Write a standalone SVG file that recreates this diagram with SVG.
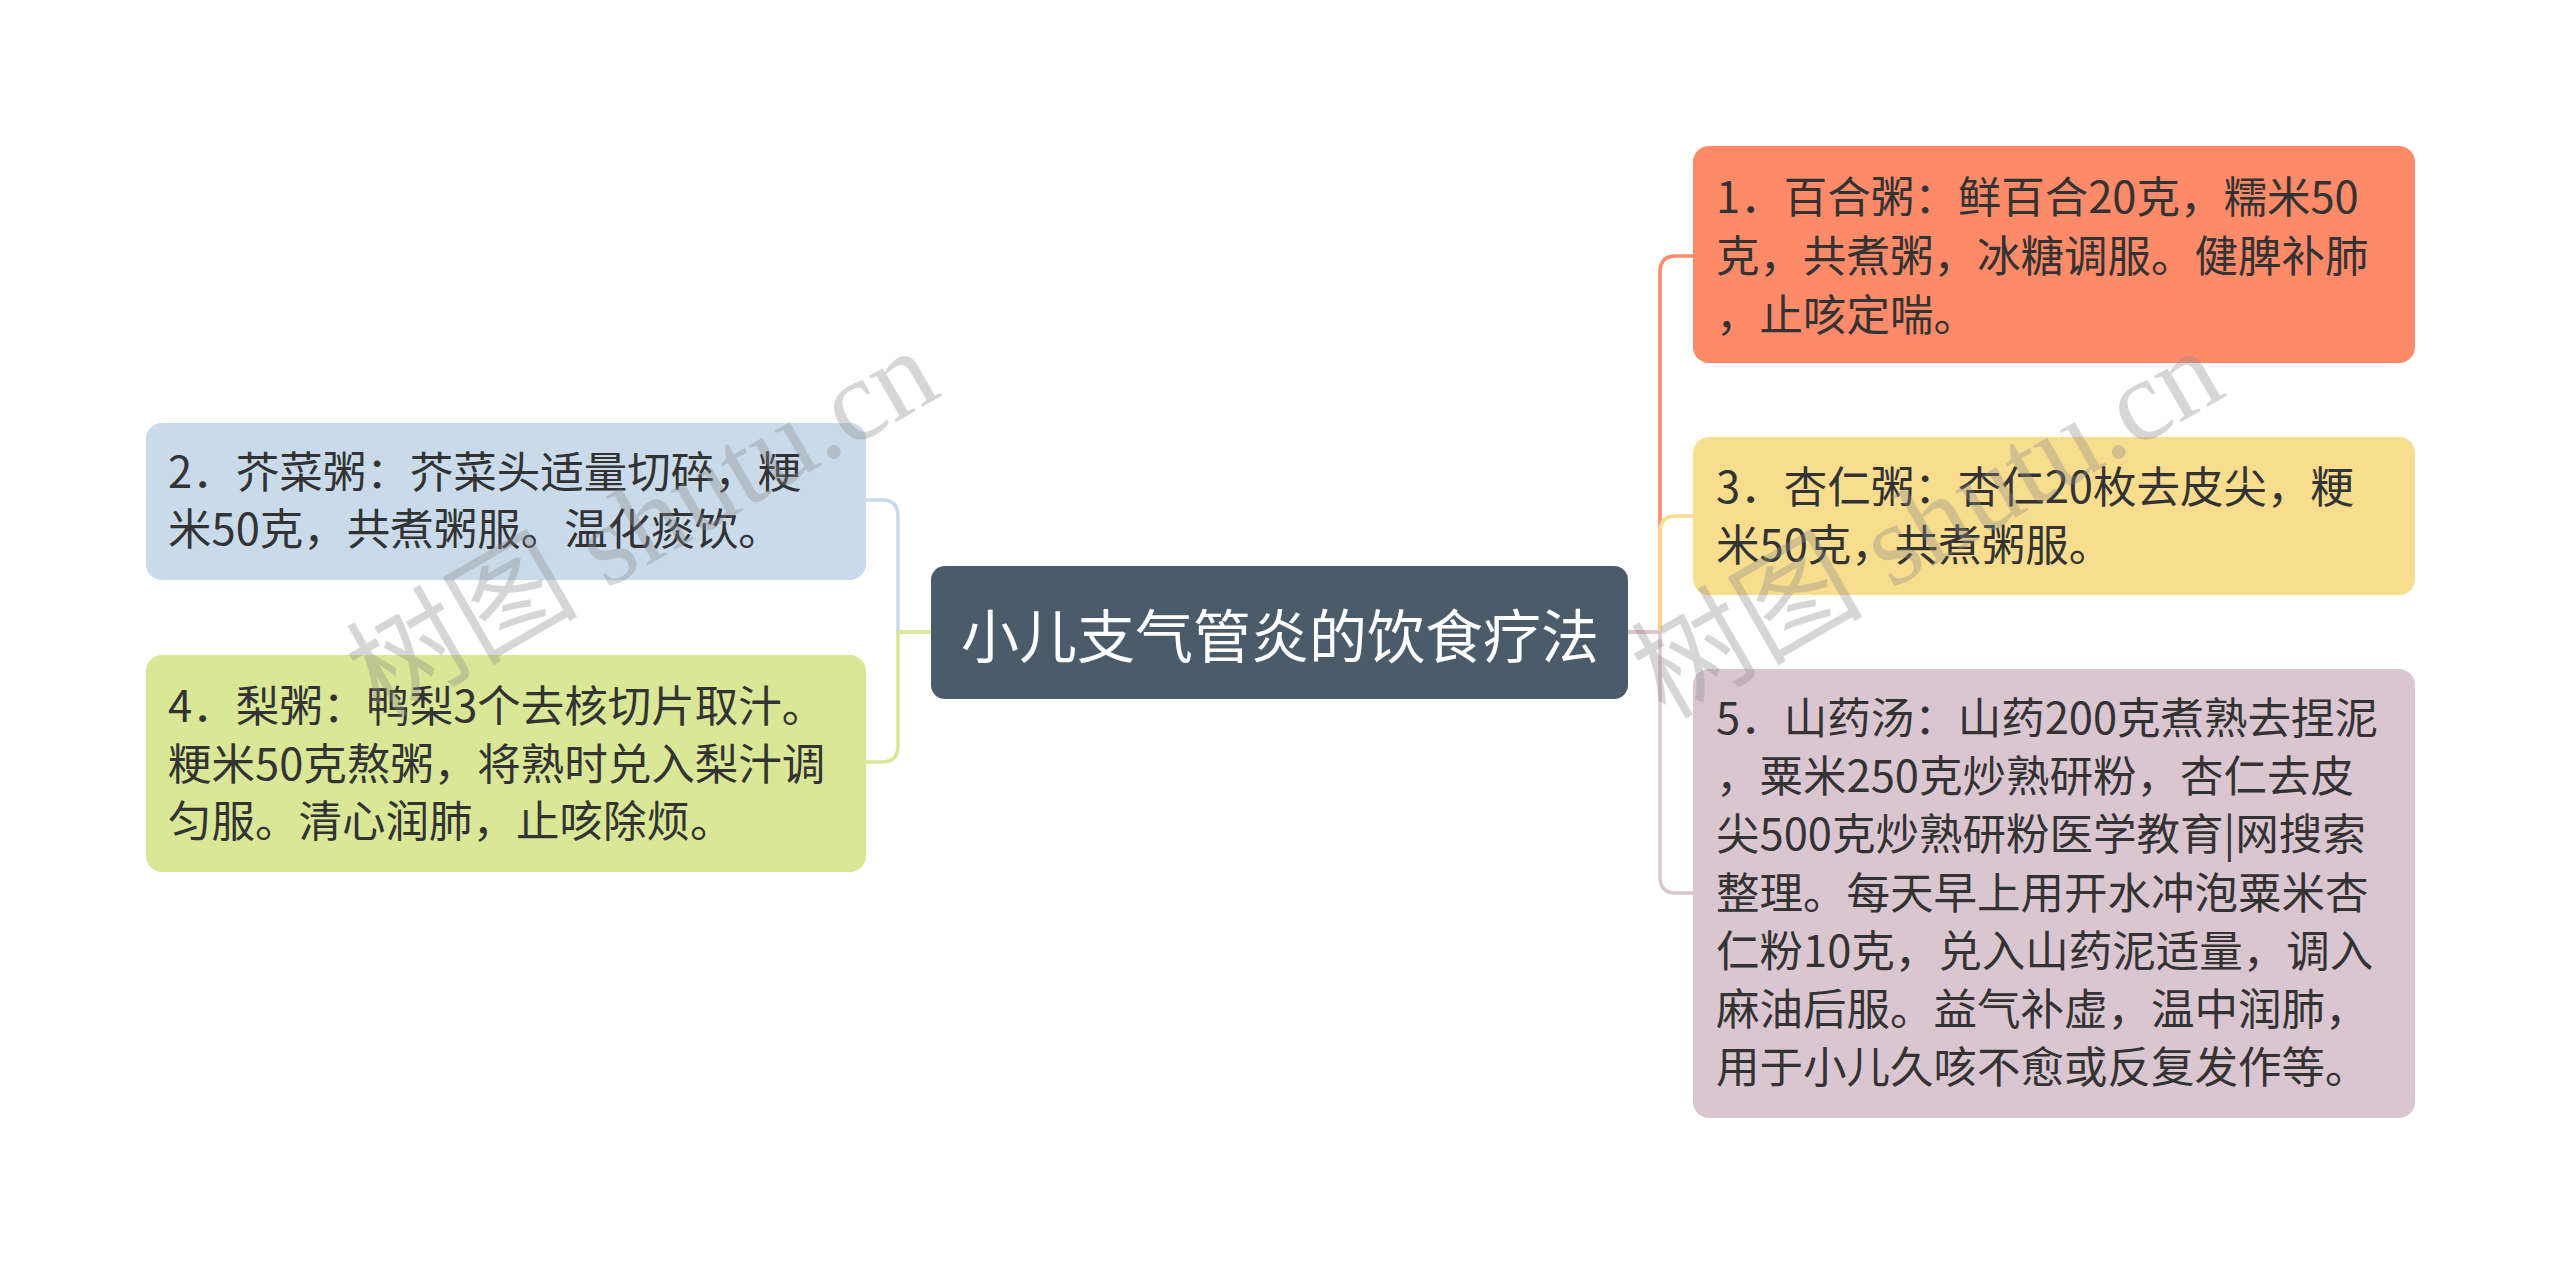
<svg xmlns="http://www.w3.org/2000/svg" width="2560" height="1265" viewBox="0 0 2560 1265">
<style>
.t{font-family:"Noto Sans CJK SC","Noto Sans",sans-serif;font-size:43.5px;fill:#333333}
.c{font-family:"Noto Sans CJK SC","Noto Sans",sans-serif;font-size:58px;fill:#ffffff}
.l{fill:none;stroke-width:3.5;stroke-linecap:round}
.wm{font-family:"Liberation Serif","Noto Sans CJK SC",serif;font-size:116px;fill:#8a8a8a;fill-opacity:0.35}
</style>
<rect width="2560" height="1265" fill="#ffffff"/>
<g id="connectors">
<path class="l" stroke="#c9dbeb" d="M931,632 H898 V516 Q898,500 882,500 H866"/>
<path class="l" stroke="#d9e796" d="M931,632 H898 V746 Q898,762 882,762 H866"/>
<path class="l" stroke="#fd8a68" d="M1628,632 H1660 V272 Q1660,256 1676,256 H1693"/>
<path class="l" stroke="#f7dd8d" d="M1628,632 H1660 V532 Q1660,516 1676,516 H1693"/>
<path class="l" stroke="#dac6d0" d="M1628,632 H1660 V877 Q1660,893 1676,893 H1693"/>
</g>
<g id="center">
<rect x="931" y="566" width="697" height="133" rx="14" fill="#4a5b6a"/>
<text class="c" x="1280" y="658" text-anchor="middle">小儿支气管炎的饮食疗法</text>
</g>
<g id="node1">
<rect x="1693" y="146" width="722" height="217" rx="16" fill="#fd8a68"/>
<text class="t" x="1716" y="213">1．百合粥：鲜百合20克，糯米50</text>
<text class="t" x="1716" y="272">克，共煮粥，冰糖调服。健脾补肺</text>
<text class="t" x="1716" y="331">，止咳定喘。</text>
</g>
<g id="node3">
<rect x="1693" y="437" width="722" height="158" rx="16" fill="#f7dd8d"/>
<text class="t" x="1716" y="503">3．杏仁粥：杏仁20枚去皮尖，粳</text>
<text class="t" x="1716" y="561">米50克，共煮粥服。</text>
</g>
<g id="node5">
<rect x="1693" y="669" width="722" height="449" rx="16" fill="#dac6d0"/>
<text class="t" x="1716" y="734">5．山药汤：山药200克煮熟去捏泥</text>
<text class="t" x="1716" y="792">，粟米250克炒熟研粉，杏仁去皮</text>
<text class="t" x="1716" y="850">尖500克炒熟研粉医学教育|网搜索</text>
<text class="t" x="1716" y="909">整理。每天早上用开水冲泡粟米杏</text>
<text class="t" x="1716" y="967">仁粉10克，兑入山药泥适量，调入</text>
<text class="t" x="1716" y="1025">麻油后服。益气补虚，温中润肺，</text>
<text class="t" x="1716" y="1083">用于小儿久咳不愈或反复发作等。</text>
</g>
<g id="node2">
<rect x="146" y="423" width="720" height="157" rx="16" fill="#c9dbeb"/>
<text class="t" x="168" y="488">2．芥菜粥：芥菜头适量切碎，粳</text>
<text class="t" x="168" y="545">米50克，共煮粥服。温化痰饮。</text>
</g>
<g id="node4">
<rect x="146" y="655" width="720" height="217" rx="16" fill="#d9e796"/>
<text class="t" x="168" y="722">4．梨粥：鸭梨3个去核切片取汁。</text>
<text class="t" x="168" y="780">粳米50克熬粥，将熟时兑入梨汁调</text>
<text class="t" x="168" y="837">匀服。清心润肺，止咳除烦。</text>
</g>
<g id="watermarks">
<text class="wm" transform="translate(380,720) rotate(-30)">树图 shutu.cn</text>
<text class="wm" transform="translate(1665,720) rotate(-30)">树图 shutu.cn</text>
</g>
</svg>
